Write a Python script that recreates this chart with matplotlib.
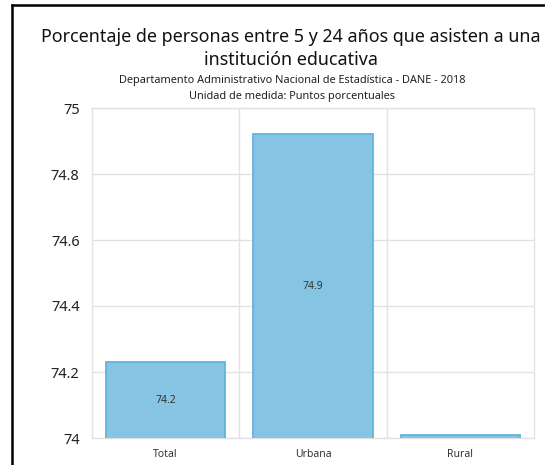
import matplotlib
matplotlib.use("Agg")
import matplotlib.pyplot as plt
from matplotlib.lines import Line2D
from matplotlib.ticker import FuncFormatter

plt.rcParams['font.family'] = ['Noto Sans', 'DejaVu Sans']

# Data
categories = ["Total", "Urbana", "Rural"]
values = [74.23, 74.92, 74.01]
labels = ["74.2", "74.9", ""]
y_ticks = [74, 74.2, 74.4, 74.6, 74.8, 75]

fig = plt.figure(figsize=(5.45, 4.65), dpi=100)
ax = fig.add_axes([92 / 545, 1 - 438 / 465, 442 / 545, 330 / 465])

x = list(range(len(categories)))
bars = ax.bar(x, values, width=0.81, color="#86C4E3", edgecolor="#5FB5DD", linewidth=1.3, zorder=3)

# value labels in the middle of each bar
for xi, v, lab in zip(x, values, labels):
    if lab:
        ax.text(xi, (74 + v) / 2, lab, ha="center", va="center", fontsize=7.5, color="#333333", zorder=4)

ax.set_ylim(74, 75)
ax.set_xlim(-0.5, 2.5)
ax.set_yticks(y_ticks)
ax.yaxis.set_major_formatter(FuncFormatter(lambda v, p: "%g" % round(v, 1)))
ax.set_xticks(x)
ax.set_xticklabels(categories)
ax.tick_params(axis="y", length=0, labelsize=10.5, labelcolor="#222222", pad=9)
ax.tick_params(axis="x", length=0, labelsize=7.5, labelcolor="#333333", pad=8)

# grid: horizontal at ticks, vertical between categories
ax.grid(axis="y", color="#E2E2E2", linewidth=1, zorder=0)
for b in [0.5, 1.5]:
    ax.axvline(b, color="#E2E2E2", linewidth=1, zorder=0)
for s in ax.spines.values():
    s.set_color("#E2E2E2")
    s.set_linewidth(1)

# titles
fig.text(0.534, 1 - 37 / 465, "Porcentaje de personas entre 5 y 24 años que asisten a una",
         ha="center", va="center", fontsize=12.9, color="#111111")
fig.text(0.534, 1 - 60 / 465, "institución educativa",
         ha="center", va="center", fontsize=12.9, color="#111111")
fig.text(0.536, 1 - 80 / 465, "Departamento Administrativo Nacional de Estadística - DANE - 2018",
         ha="center", va="center", fontsize=7.9, color="#222222")
fig.text(0.536, 1 - 96 / 465, "Unidad de medida: Puntos porcentuales",
         ha="center", va="center", fontsize=7.9, color="#222222")

# black frame on the left and top (cropped panel border)
fig.add_artist(Line2D([12 / 545, 12 / 545], [0, 1 - 5 / 465], color="black", linewidth=1.8))
fig.add_artist(Line2D([12 / 545, 1], [1 - 5 / 465, 1 - 5 / 465], color="black", linewidth=1.8))

fig.savefig("out.png", dpi=100, facecolor="white")
